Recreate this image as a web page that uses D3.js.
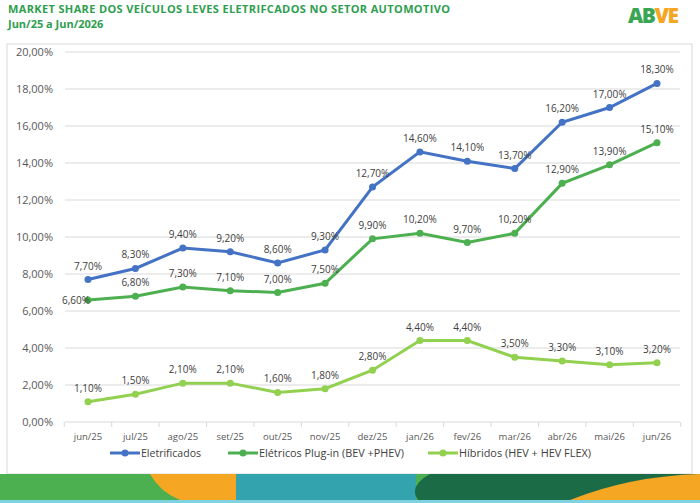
<!DOCTYPE html><html><head><meta charset="utf-8"><script src="https://cdn.jsdelivr.net/npm/d3@7"></script>
<style>body{margin:0;background:#fff}svg{font-family:"Open Sans",sans-serif}</style></head><body><svg id="c" width="700" height="503"></svg>
<script>
const months=["jun/25","jul/25","ago/25","set/25","out/25","nov/25","dez/25","jan/26","fev/26","mar/26","abr/26","mai/26","jun/26"];
const eletrificados=[7.7,8.3,9.4,9.2,8.6,9.3,12.7,14.6,14.1,13.7,16.2,17.0,18.3];
const plugin=[6.6,6.8,7.3,7.1,7.0,7.5,9.9,10.2,9.7,10.2,12.9,13.9,15.1];
const hibridos=[1.1,1.5,2.1,2.1,1.6,1.8,2.8,4.4,4.4,3.5,3.3,3.1,3.2];
const yTicks=[0,2,4,6,8,10,12,14,16,18,20];
const names=["Eletrificados","Elétricos Plug-in (BEV +PHEV)","Híbridos (HEV + HEV FLEX)"];
const colors=["#4472C4","#4CAF50","#92D050"];
const svg=d3.select("#c");
const fmt=v=>v.toFixed(2).replace(".",",")+"%";
svg.append("text").attr("x",8).attr("y",13).attr("fill","#2E9E4F").attr("font-size",11).attr("font-weight",700).attr("textLength",442).text("MARKET SHARE DOS VEÍCULOS LEVES ELETRIFCADOS NO SETOR AUTOMOTIVO");
svg.append("text").attr("x",8).attr("y",28).attr("fill","#2E9E4F").attr("font-size",11).attr("font-weight",700).text("Jun/25 a Jun/2026");
const lg=svg.append("text").attr("x",628).attr("y",23).attr("font-size",21).attr("font-weight",800).attr("letter-spacing",-1.5);
[["A","#3aa655"],["B","#3aa655"],["V","#f5a623"],["E","#f5a623"]].forEach(([t,c])=>lg.append("tspan").attr("fill",c).text(t));
svg.append("rect").attr("x",7).attr("y",44).attr("width",685).attr("height",430).attr("fill","#fff").attr("stroke","#d9d9d9");
const x=d3.scalePoint().domain(months).range([88,657]);
const y=d3.scaleLinear().domain([0,20]).range([422,52]);
svg.append("g").selectAll("line").data(yTicks).join("line").attr("x1",65).attr("x2",680).attr("y1",d=>y(d)).attr("y2",d=>y(d)).attr("stroke","#d9d9d9");
svg.append("g").selectAll("text").data(yTicks).join("text").attr("x",53).attr("y",d=>y(d)+4).attr("text-anchor","end").attr("font-size",11).attr("fill","#595959").text(fmt);
const step=x.step();
svg.append("g").selectAll("line").data(d3.range(months.length+1)).join("line").attr("x1",i=>88-step/2+i*step).attr("x2",i=>88-step/2+i*step).attr("y1",422).attr("y2",427).attr("stroke","#d9d9d9");
svg.append("g").selectAll("text").data(months).join("text").attr("x",d=>x(d)).attr("y",440).attr("text-anchor","middle").attr("font-size",9.5).attr("fill","#595959").text(d=>d);
const series=[eletrificados,plugin,hibridos];
const line=d3.line().x((d,i)=>x(months[i])).y(d=>y(d));
series.forEach((s,k)=>{
 svg.append("path").attr("d",line(s)).attr("fill","none").attr("stroke",colors[k]).attr("stroke-width",3);
 svg.append("g").selectAll("circle").data(s).join("circle").attr("cx",(d,i)=>x(months[i])).attr("cy",d=>y(d)).attr("r",3.5).attr("fill",colors[k]);
 svg.append("g").selectAll("text").data(s).join("text").attr("x",(d,i)=>x(months[i])+(k==1&&i==0?-12:0)).attr("y",(d,i)=>y(d)-(k==1&&i==0?-4:10)).attr("text-anchor","middle").attr("font-size",10).attr("fill","#404040").text(fmt);
});
const lx=[110,228,428],lw=[60,145,132];
names.forEach((n,k)=>{
 svg.append("line").attr("x1",lx[k]).attr("x2",lx[k]+30).attr("y1",453).attr("y2",453).attr("stroke",colors[k]).attr("stroke-width",3);
 svg.append("circle").attr("cx",lx[k]+15).attr("cy",453).attr("r",3.5).attr("fill",colors[k]);
 svg.append("text").attr("x",lx[k]+31).attr("y",457).attr("font-size",11).attr("fill","#404040").attr("textLength",lw[k]).attr("lengthAdjust","spacingAndGlyphs").text(n);
});
const b=svg.append("g");
b.append("rect").attr("x",0).attr("y",474).attr("width",700).attr("height",29).attr("fill","#4CAF50");
b.append("path").attr("d","M150,474 Q160,492 180,500 L236,500 L236,474Z").attr("fill","#F5A623");
b.append("rect").attr("x",236).attr("y",474).attr("width",180).attr("height",26).attr("fill","#33A3AD");
b.append("path").attr("d","M430,474 Q408,486 418,500 L700,500 L700,474Z").attr("fill","#1B6B47");
b.append("path").attr("d","M570,500 Q630,476 700,474 L700,500Z").attr("fill","#F5A623");
b.append("rect").attr("x",0).attr("y",500).attr("width",700).attr("height",3).attr("fill","#7FD3E0");
</script></body></html>
